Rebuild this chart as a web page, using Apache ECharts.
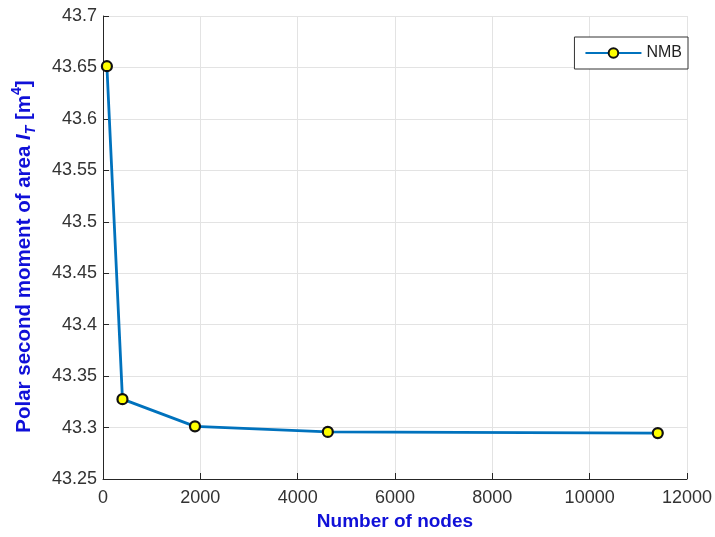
<!DOCTYPE html>
<html>
<head>
<meta charset="utf-8">
<style>
  html, body { margin: 0; padding: 0; background: #fff; }
  #chart { width: 715px; height: 537px; }
</style>
<script src="https://cdn.jsdelivr.net/npm/echarts@6/dist/echarts.min.js"></script>
</head>
<body>
<div id="chart"></div>
<script>
// Convergence of the polar second moment of area with mesh refinement
const seriesName = 'NMB';
const nodeCounts = [80, 400, 1890, 4620, 11400];
const polarMoment = [43.6512, 43.3276, 43.3012, 43.2958, 43.2946];
const xTicks = { min: 0, max: 12000, interval: 2000 };
const yTicks = { min: 43.25, max: 43.7, interval: 0.05 };

const chart = echarts.init(document.getElementById('chart'), null, { renderer: 'canvas' });

const axisColor = '#262626';
const gridColor = '#e3e3e3';
const titleBlue = '#1010d8';
const fontFamily = '"Liberation Sans", Arial, sans-serif';

chart.setOption({
  backgroundColor: '#ffffff',
  animation: false,
  grid: { left: 103, right: 26, top: 16, bottom: 58, containLabel: false },
  legend: {
    data: [seriesName],
    right: 27,
    top: 37,
    orient: 'vertical',
    itemWidth: 56,
    itemHeight: 12,
    itemGap: 0,
    padding: [8, 6, 8, 10],
    borderColor: '#333',
    borderWidth: 1,
    borderRadius: 0,
    backgroundColor: '#fff',
    textStyle: { fontFamily: fontFamily, fontSize: 16, color: '#222' }
  },
  xAxis: {
    type: 'value',
    min: xTicks.min,
    max: xTicks.max,
    interval: xTicks.interval,
    name: 'Number of nodes',
    nameLocation: 'middle',
    nameGap: 33,
    nameTextStyle: { fontFamily: fontFamily, fontSize: 19, fontWeight: 'bold', color: titleBlue },
    axisLine: { show: true, lineStyle: { color: axisColor, width: 1 } },
    axisTick: { show: true, inside: true, length: 6, lineStyle: { color: axisColor } },
    axisLabel: {
      fontFamily: fontFamily, fontSize: 18, color: '#333', margin: 10,
      formatter: function (v) { return String(v); }
    },
    splitLine: { show: true, lineStyle: { color: gridColor, width: 1 } }
  },
  yAxis: {
    type: 'value',
    min: yTicks.min,
    max: yTicks.max,
    interval: yTicks.interval,
    name: '{b|Polar second moment of area }{i|I}{sub|T}{b| [m}{sup|4}{b|]}',
    nameLocation: 'middle',
    nameRotate: 90,
    nameGap: 65,
    nameTextStyle: {
      fontFamily: fontFamily,
      fontSize: 20,
      fontWeight: 'bold',
      color: titleBlue,
      padding: [0, 18, 0, 0],
      rich: {
        b: { fontFamily: fontFamily, fontSize: 20.5, fontWeight: 'bold', color: titleBlue, lineHeight: 28, verticalAlign: 'middle' },
        i: { fontFamily: fontFamily, fontSize: 20.5, fontWeight: 'bold', fontStyle: 'italic', color: titleBlue, lineHeight: 28, verticalAlign: 'middle' },
        sub: { fontFamily: fontFamily, fontSize: 14, fontWeight: 'bold', fontStyle: 'italic', color: titleBlue, lineHeight: 14, verticalAlign: 'bottom' },
        sup: { fontFamily: fontFamily, fontSize: 14, fontWeight: 'bold', color: titleBlue, lineHeight: 14, verticalAlign: 'top' }
      }
    },
    axisLine: { show: true, lineStyle: { color: axisColor, width: 1 } },
    axisTick: { show: true, inside: true, length: 6, lineStyle: { color: axisColor } },
    axisLabel: {
      fontFamily: fontFamily, fontSize: 18, color: '#333', margin: 6,
      formatter: function (v) { return String(parseFloat(v.toFixed(2))); }
    },
    splitLine: { show: true, lineStyle: { color: gridColor, width: 1 } }
  },
  series: [{
    name: seriesName,
    type: 'line',
    data: nodeCounts.map(function (n, i) { return [n, polarMoment[i]]; }),
    symbol: 'circle',
    symbolSize: 10,
    lineStyle: { color: '#0072BD', width: 2.8 },
    itemStyle: { color: '#ffff00', borderColor: '#111', borderWidth: 2.2 },
    z: 3
  }]
});
</script>
</body>
</html>
